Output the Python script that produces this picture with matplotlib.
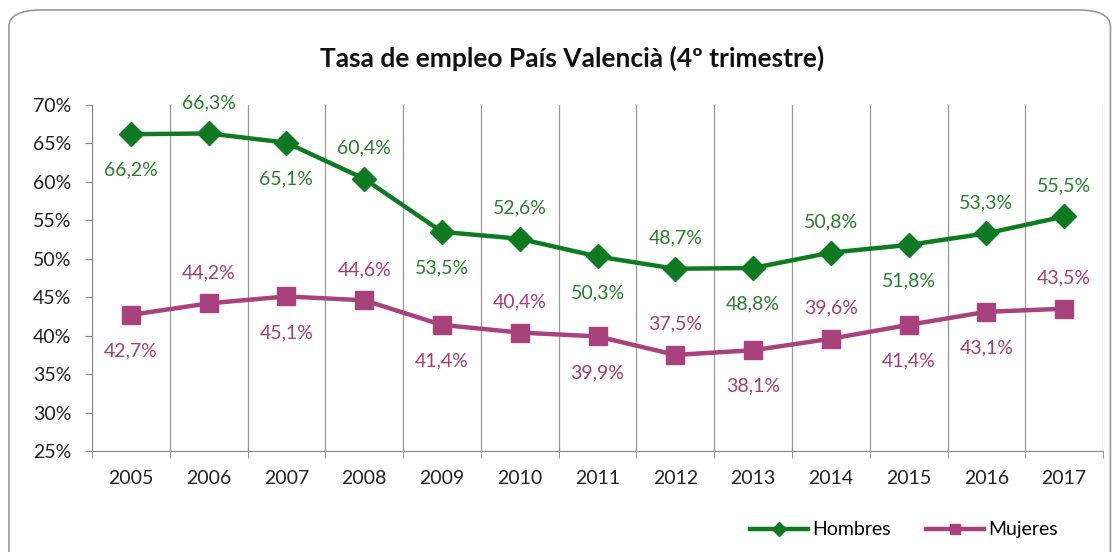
import matplotlib.pyplot as plt
from matplotlib.patches import FancyBboxPatch
from matplotlib.ticker import FuncFormatter, FixedLocator

YEARS = ["2005", "2006", "2007", "2008", "2009", "2010", "2011",
         "2012", "2013", "2014", "2015", "2016", "2017"]
HOMBRES = [66.2, 66.3, 65.1, 60.4, 53.5, 52.6, 50.3, 48.7, 48.8, 50.8, 51.8, 53.3, 55.5]
MUJERES = [42.7, 44.2, 45.1, 44.6, 41.4, 40.4, 39.9, 37.5, 38.1, 39.6, 41.4, 43.1, 43.5]
# label position: 1 = above the point, -1 = below
HOMBRES_POS = [-1, 1, -1, 1, -1, 1, -1, 1, -1, 1, -1, 1, 1]
MUJERES_POS = [-1, 1, -1, 1, -1, 1, -1, 1, -1, 1, -1, -1, 1]

GREEN = "#0f7a22"
PINK = "#a8427d"
GREEN_TXT = "#2c7d30"
PINK_TXT = "#a23f74"

plt.rcParams["font.family"] = ["Lato", "DejaVu Sans"]

fig = plt.figure(figsize=(11.16, 5.52), dpi=100)
fig.patches.append(FancyBboxPatch((0.008, -0.05), 0.987, 1.032, transform=fig.transFigure,
                                  boxstyle="round,pad=0,rounding_size=0.03",
                                  fc="white", ec="#9a9a9a", lw=1.2, zorder=-1))
ax = fig.add_axes([0.0824, 0.183, 0.906, 0.6268])

x = list(range(len(YEARS)))
ax.plot(x, HOMBRES, color=GREEN, lw=3.2, marker="D", ms=12, label="Hombres", zorder=3)
ax.plot(x, MUJERES, color=PINK, lw=3.2, marker="s", ms=13, label="Mujeres", zorder=3)


def fmt(v):
    return f"{v:.1f}%".replace(".", ",")


for xi, v, p in zip(x, HOMBRES, HOMBRES_POS):
    ax.annotate(fmt(v), (xi, v), xytext=(0, 22 if p > 0 else -26),
                textcoords="offset points", ha="center", va="center",
                color=GREEN_TXT, fontsize=14)
for xi, v, p in zip(x, MUJERES, MUJERES_POS):
    ax.annotate(fmt(v), (xi, v), xytext=(0, 22 if p > 0 else -26),
                textcoords="offset points", ha="center", va="center",
                color=PINK_TXT, fontsize=14)

ax.set_xlim(-0.5, len(YEARS) - 0.5)
ax.set_ylim(25, 70)
ax.set_yticks(range(25, 71, 5))
ax.yaxis.set_major_formatter(FuncFormatter(lambda v, _: f"{v:.0f}%"))
ax.set_xticks(x)
ax.set_xticklabels(YEARS)
ax.xaxis.set_minor_locator(FixedLocator([i - 0.5 for i in range(len(YEARS) + 1)]))
ax.tick_params(axis="x", which="major", length=0, pad=14, labelsize=14, colors="#222222")
ax.tick_params(axis="x", which="minor", length=5, color="#888888")
ax.tick_params(axis="y", length=5, color="#888888", labelsize=14, labelcolor="#222222", pad=10)
ax.grid(True, axis="x", which="minor", color="#999999", lw=0.9)
for s in ["top", "right"]:
    ax.spines[s].set_visible(False)
ax.spines["left"].set_color("#888888")
ax.spines["bottom"].set_color("#888888")

fig.text(0.513, 0.895, "Tasa de empleo País Valencià (4º trimestre)", ha="center", va="center",
         fontsize=19, fontweight="bold", color="#111111")

fig.legend(loc="center", bbox_to_anchor=(0.81, 0.04), ncol=2, frameon=False,
           fontsize=14, handlelength=3.0, markerscale=0.6, columnspacing=1.8, handletextpad=0.2)

fig.savefig("out.png", dpi=100)
